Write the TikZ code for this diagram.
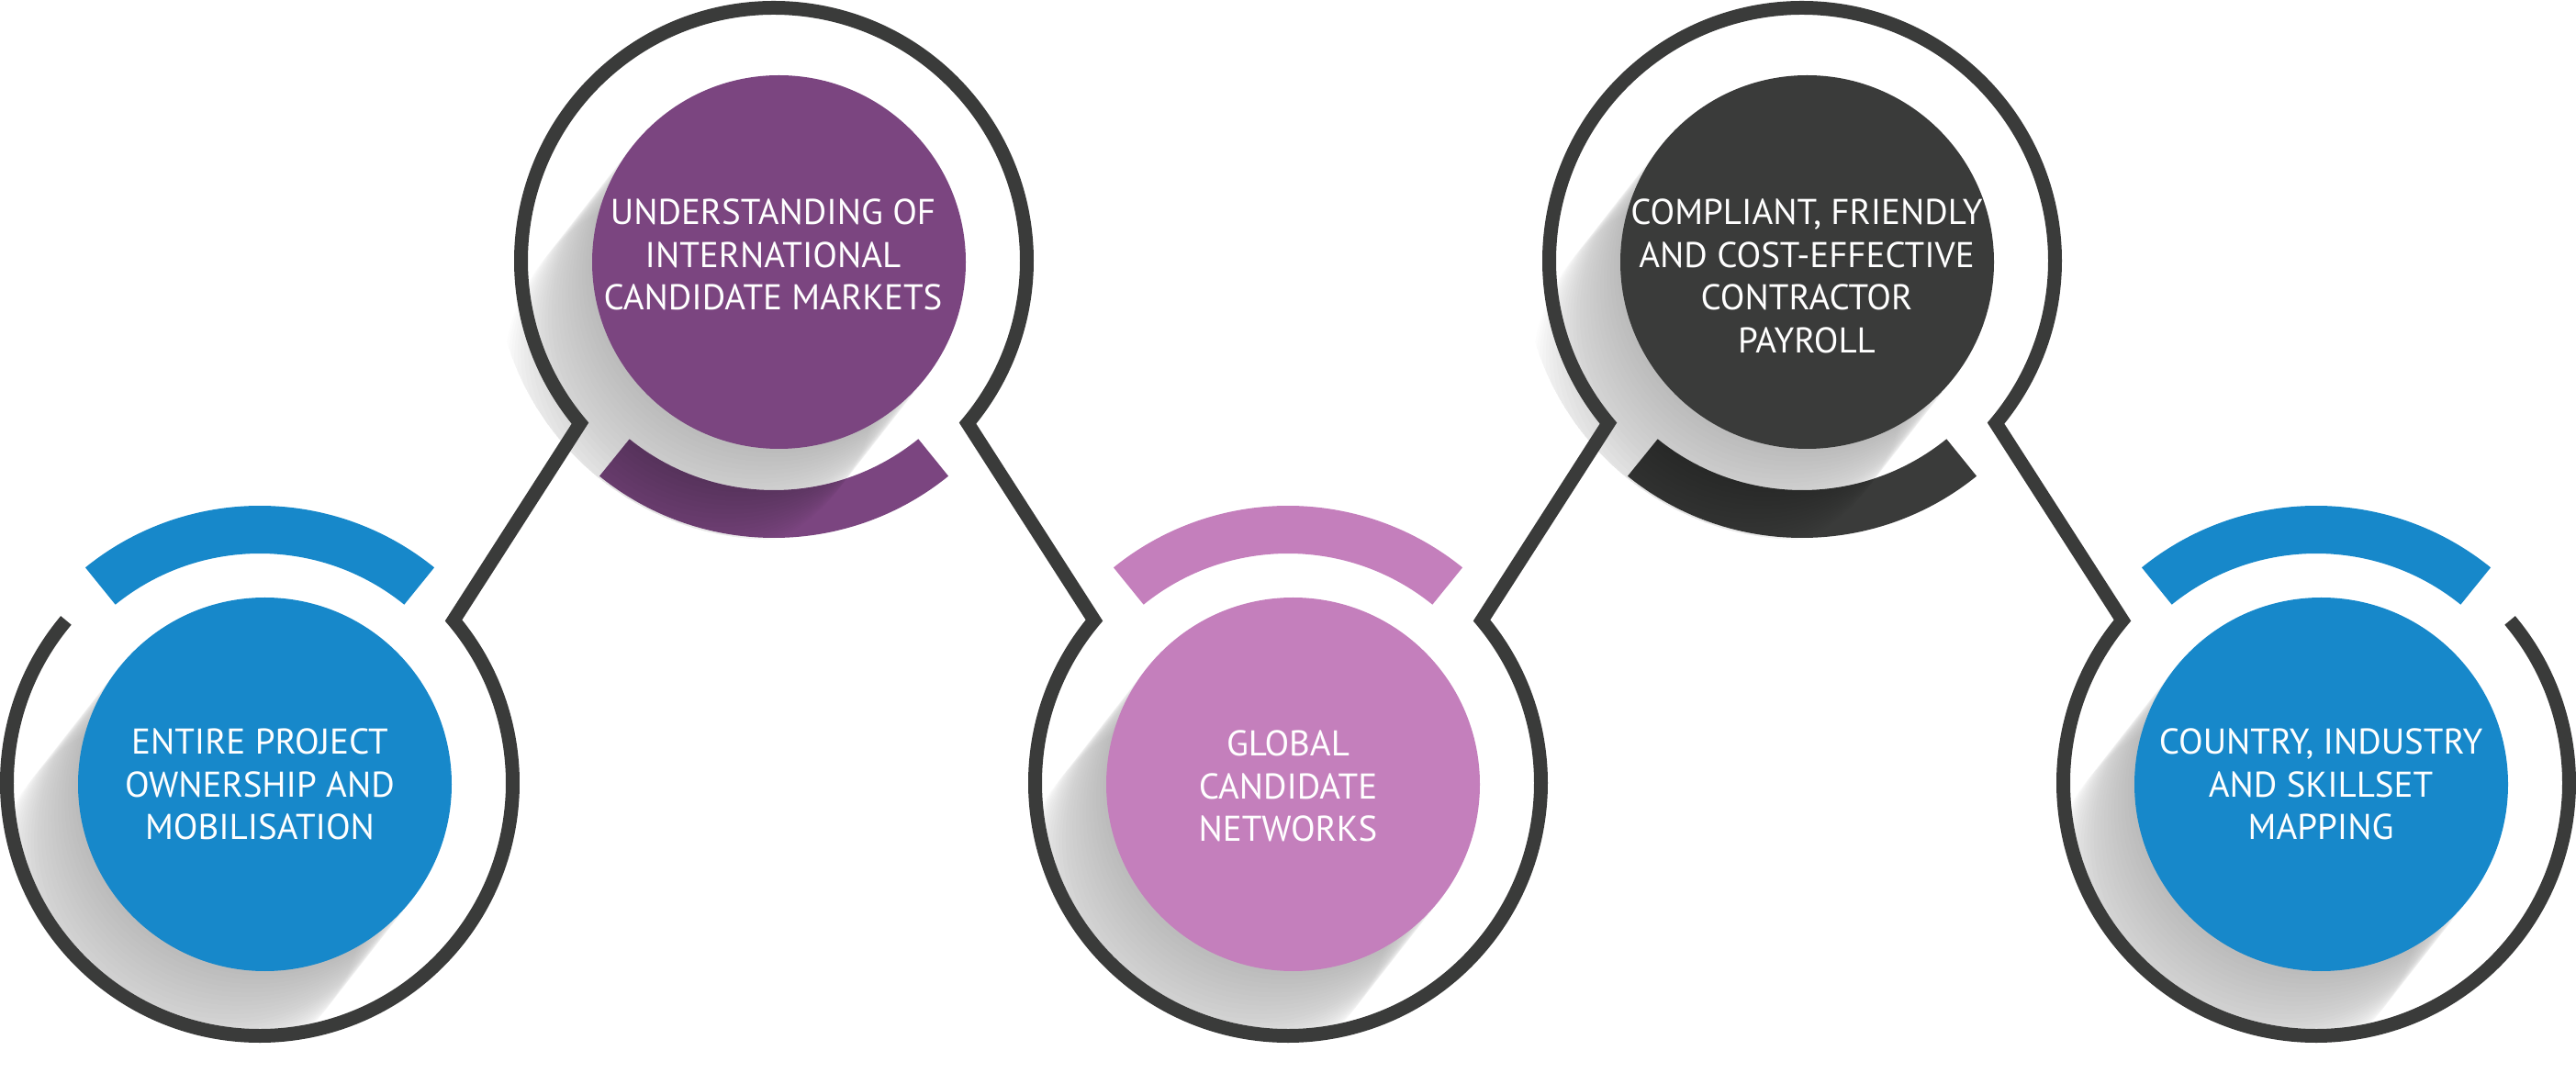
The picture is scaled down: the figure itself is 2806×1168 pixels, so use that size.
\documentclass[tikz,border=0pt]{standalone}
\usepackage{fontspec}
\setmainfont{PT Sans}
\usetikzlibrary{calc}
\definecolor{cblue}{RGB}{23,136,202}
\definecolor{cpurple}{RGB}{123,69,128}
\definecolor{cpink}{RGB}{196,127,188}
\definecolor{cdark}{RGB}{58,59,58}
\tikzset{
  ringline/.style={draw=cdark, line width=15pt, line join=miter},
  disc/.style={circle, minimum size=407pt, inner sep=0pt, draw=none},
  label/.style={text=white, align=center, font=\fontsize{39}{46.5}\selectfont},
  shadowcopy/.style={fill=black, opacity=0.012}
}
\def\RR{275.5}
\begin{document}
\begin{tikzpicture}[x=1pt,y=1pt]
\useasboundingbox (0,0) rectangle (2806,1168);
% ring centres
\coordinate (r1) at (283,315);
\coordinate (r2) at (843,884);
\coordinate (r3) at (1403,315);
\coordinate (r4) at (1963,884);
\coordinate (r5) at (2523,315);
% disc centres
\coordinate (d1) at (288.5,313.5);
\coordinate (d2) at (848.5,882.5);
\coordinate (d3) at (1408.5,313.5);
\coordinate (d4) at (1968.5,882.5);
\coordinate (d5) at (2528.5,313.5);
% bands
\foreach \r/\c in {r1/cblue, r3/cpink, r5/cblue}{
  \fill[\c] ($(\r)+(51:302)$) arc[start angle=51, end angle=129, radius=302]
     -- ($(\r)+(129:250)$) arc[start angle=129, end angle=51, radius=250] -- cycle;
}
\foreach \r/\c in {r2/cpurple, r4/cdark}{
  \fill[\c] ($(\r)+(231:302)$) arc[start angle=231, end angle=309, radius=302]
     -- ($(\r)+(309:250)$) arc[start angle=309, end angle=231, radius=250] -- cycle;
}
% long shadows
\foreach \d/\r/\cl in {d1/r1/268, d2/r2/304, d3/r3/268, d4/r4/304, d5/r5/268}{
  \begin{scope}
    \clip (\r) circle[radius=\cl];
    \foreach \k in {1,...,26}{
      \fill[shadowcopy] ($(\d)+(232:{\k*6})$) circle[radius=203.5];
    }
  \end{scope}
}
% discs
\node[disc, fill=cblue] (n1) at (d1) {};
\node[disc, fill=cpurple] (n2) at (d2) {};
\node[disc, fill=cpink] (n3) at (d3) {};
\node[disc, fill=cdark] (n4) at (d4) {};
\node[disc, fill=cblue] (n5) at (d5) {};
% connecting ring line
\draw[ringline] ($(r1)+(140:\RR)$) arc[start angle=140, end angle=400, radius=\RR]
  -- ($(r2)+(220:\RR)$) arc[start angle=220, end angle=-40, radius=\RR]
  -- ($(r3)+(140:\RR)$) arc[start angle=140, end angle=400, radius=\RR]
  -- ($(r4)+(220:\RR)$) arc[start angle=220, end angle=-40, radius=\RR]
  -- ($(r5)+(140:\RR)$) arc[start angle=140, end angle=400, radius=\RR];
% labels
\node[label] (t1) at (283,313.5) {ENTIRE PROJECT\\OWNERSHIP AND\\MOBILISATION};
\node[label] (t2) at (842,890.5) {UNDERSTANDING OF\\INTERNATIONAL\\CANDIDATE MARKETS};
\node[label] (t3) at (1403,311.5) {GLOBAL\\CANDIDATE\\NETWORKS};
\node[label] (t4) at (1968,867) {COMPLIANT, FRIENDLY\\AND COST-EFFECTIVE\\CONTRACTOR\\PAYROLL};
\node[label] (t5) at (2528,313.5) {COUNTRY, INDUSTRY\\AND SKILLSET\\MAPPING};
\end{tikzpicture}
\end{document}
